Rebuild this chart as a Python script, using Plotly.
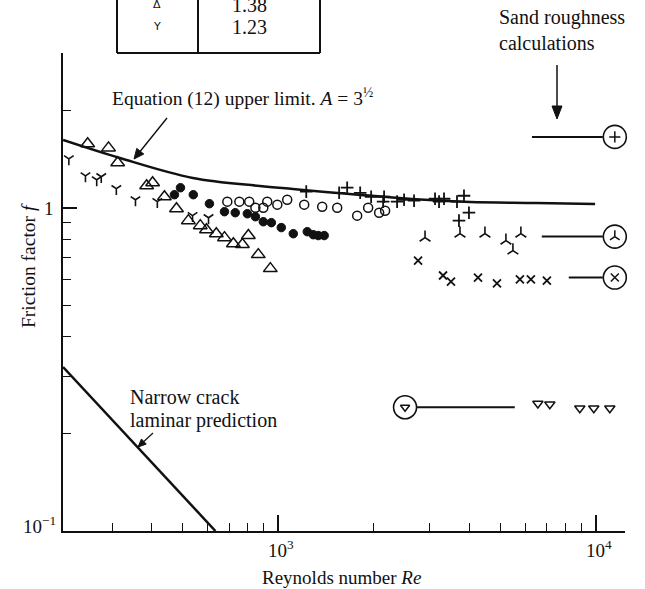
import math
import plotly.graph_objects as go

# ---------------- data ----------------
y_re = [219, 247, 268, 277, 309, 355, 416, 537, 603]
y_f = [1.416, 1.255, 1.22, 1.247, 1.145, 1.058, 1.044, 0.945, 0.931]

tri_re = [251, 292, 312, 385, 402, 438, 478, 521, 568, 594, 638, 677, 722, 771, 805, 865, 944]
tri_f = [1.576, 1.531, 1.377, 1.169, 1.195, 1.081, 0.993, 0.912, 0.880, 0.855, 0.831, 0.808,
         0.774, 0.769, 0.820, 0.716, 0.648]

dot_re = [471, 492, 540, 607, 677, 732, 799, 847, 897, 951, 1022, 1115, 1234, 1289, 1336, 1395]
dot_f = [1.097, 1.153, 1.097, 1.029, 0.972, 0.965, 0.958, 0.938, 0.905, 0.899, 0.868, 0.831,
         0.843, 0.825, 0.820, 0.820]

circ_re = [691, 754, 810, 847, 897, 923, 993, 1067, 1207, 1375, 1533, 1772, 1919, 2078, 2170]
circ_f = [1.044, 1.044, 1.044, 1.0, 1.0, 1.044, 1.022, 1.058, 1.022, 1.007, 1.0, 0.945, 1.0,
          0.965, 0.979]

plus_re = [1225, 1555, 1648, 1811, 1961, 2154, 2139, 2367, 2490, 2677, 3117, 3209, 3327, 3655,
           3845, 3986, 3708]
plus_f = [1.121, 1.112, 1.153, 1.112, 1.081, 1.081, 1.044, 1.044, 1.058, 1.051, 1.066, 1.044,
          1.066, 1.044, 1.089, 0.965, 0.912]

lam_re = [2899, 3735, 4476, 5212, 5483, 5809]
lam_f = [0.808, 0.831, 0.831, 0.791, 0.737, 0.831]

x_re = [2756, 3303, 3499, 4256, 4884, 5768, 6246, 7014]
x_f = [0.686, 0.617, 0.591, 0.608, 0.583, 0.60, 0.60, 0.595]

inv_re = [6570, 7165, 8906, 9856, 11070]
inv_f = [0.248, 0.2466, 0.2397, 0.2397, 0.2397]

# Equation (12) upper limit curve
eq12_re = [210, 317, 538, 875, 1112, 1406, 2800, 4019, 6500, 9950]
eq12_f = [1.62, 1.425, 1.236, 1.167, 1.142, 1.118, 1.060, 1.041, 1.034, 1.027]

# Narrow crack laminar prediction
lamline_re = [210, 634]
lamline_f = [0.3215, 0.1]

# Sand roughness calculations (circled symbols with lines)
sand_symbols = ["cross-thin-open", "y-up-open", "x-thin-open", "triangle-down-open"]
sand_f = [1.656, 0.814, 0.608, 0.2415]
sand_line_start = [6295, 6760, 8220, 2736]
sand_line_end = [10520, 10520, 10520, 5557]
sand_circle_re = [11480, 11480, 11480, 2508]

# Table (partially visible)
table_symbols = ["Δ", "Y"]
table_values = ["1.38", "1.23"]

# ---------------- figure ----------------
W, H = 645, 589
L, R, T, B = 63, 20, 53, 58
PW, PH = W - L - R, H - T - B


def px(xp):
    return (xp - L) / PW


def py(yp):
    return (H - B - yp) / PH


FONT = "Liberation Serif"
BLK = "#111111"
TS = 20  # label text size

fig = go.Figure()

fig.add_trace(go.Scatter(x=eq12_re, y=eq12_f, mode="lines", line=dict(color=BLK, width=2.5, shape="spline"),
                         hoverinfo="skip"))
fig.add_trace(go.Scatter(x=lamline_re, y=lamline_f, mode="lines", line=dict(color=BLK, width=2.5),
                         hoverinfo="skip"))

def add_markers(xs, ys, symbol, size, lw=1.5):
    fig.add_trace(go.Scatter(
        x=xs, y=ys, mode="markers", cliponaxis=False,
        marker=dict(symbol=symbol, size=size, color=BLK,
                    line=dict(color=BLK, width=lw))))

add_markers(y_re, y_f, "y-down-open", 8, 1.6)
add_markers(tri_re, tri_f, "triangle-up-open", 12, 1.5)
add_markers(dot_re, dot_f, "circle", 8.5, 1)
add_markers(circ_re, circ_f, "circle-open", 9, 1.5)
add_markers(plus_re, plus_f, "cross-thin-open", 9, 1.8)
add_markers(lam_re, lam_f, "y-up-open", 9, 1.6)
add_markers(x_re, x_f, "x-thin-open", 8, 1.8)
add_markers(inv_re, inv_f, "triangle-down-open", 9, 1.5)

for sym, f, x0, x1, xc in zip(sand_symbols, sand_f, sand_line_start, sand_line_end, sand_circle_re):
    fig.add_trace(go.Scatter(x=[x0, x1], y=[f, f], mode="lines", cliponaxis=False,
                             line=dict(color=BLK, width=2)))
    fig.add_trace(go.Scatter(x=[xc], y=[f], mode="markers", cliponaxis=False,
                             marker=dict(symbol="circle-open", size=23, color=BLK,
                                         line=dict(color=BLK, width=1.6))))
    fig.add_trace(go.Scatter(x=[xc], y=[f], mode="markers", cliponaxis=False,
                             marker=dict(symbol=sym, size=8, color=BLK,
                                         line=dict(color=BLK, width=1.5))))

annotations = []
shapes = []


def label(xp, yp, text, size=TS, xanchor="left", angle=0, family=FONT):
    annotations.append(dict(x=px(xp), y=py(yp), xref="paper", yref="paper", xanchor=xanchor,
                            yanchor="middle", text=text, showarrow=False, textangle=angle,
                            font=dict(family=family, size=size, color=BLK)))


def arrow(x0, y0, x1, y1, head_len=10, head_w=4.5, width=1.4):
    """arrow from pixel (x0, y0) to head at (x1, y1)"""
    dx, dy = x1 - x0, y1 - y0
    n = math.hypot(dx, dy)
    ux, uy = dx / n, dy / n
    bx, by = x1 - ux * head_len, y1 - uy * head_len
    shapes.append(dict(type="line", xref="paper", yref="paper", x0=px(x0), y0=py(y0),
                       x1=px(bx), y1=py(by), line=dict(color=BLK, width=width)))
    p1 = (bx + uy * head_w, by - ux * head_w)
    p2 = (bx - uy * head_w, by + ux * head_w)
    path = "M {} {} L {} {} L {} {} Z".format(px(x1), py(y1), px(p1[0]), py(p1[1]),
                                             px(p2[0]), py(p2[1]))
    shapes.append(dict(type="path", xref="paper", yref="paper", path=path,
                       fillcolor=BLK, line=dict(color=BLK, width=1)))


# axis tick labels
label(58, 525, "10<sup>−1</sup>", 19, "right")
label(56, 208, "1", 19, "right")
label(281, 549, "10<sup>3</sup>", 19, "center")
label(599, 549, "10<sup>4</sup>", 19, "center")
# axis titles
label(341, 577, "Reynolds number <i>Re</i>", 19, "center")
label(28, 266, "Friction factor <i>f</i>", 19.5, "center", angle=-90)

# text labels
label(110, 97, "Equation (12) upper limit. <i>A</i> = 3<sup>½</sup>", 19.5)
label(497, 18, "Sand roughness", TS)
label(497, 43, "calculations", TS)
label(128, 397, "Narrow crack", TS)
label(128, 420, "laminar prediction", TS)

# arrows
arrow(167, 118, 134, 159)
arrow(557, 65, 557, 119, head_len=13, head_w=5, width=1.5)
arrow(153, 433, 138, 447, head_len=8, head_w=3.5, width=1.2)

# partial table at the top
for xv in (117, 198, 320):
    shapes.append(dict(type="line", xref="paper", yref="paper", x0=px(xv), x1=px(xv),
                       y0=py(53), y1=py(-5), line=dict(color=BLK, width=2)))
shapes.append(dict(type="line", xref="paper", yref="paper", x0=px(117), x1=px(320),
                   y0=py(53), y1=py(53), line=dict(color=BLK, width=2)))
for i, (s, v) in enumerate(zip(table_symbols, table_values)):
    yc = 5 + 22 * i
    label(157, yc, s, 11, "center", family="DejaVu Sans")
    label(249, yc, v, 20, "center")

axis_common = dict(showgrid=False, zeroline=False, showline=True, linecolor=BLK, linewidth=2,
                   ticks="inside", tickcolor=BLK, tickwidth=1.5, showticklabels=False, mirror=False)

fig.update_layout(
    width=W, height=H, margin=dict(l=L, r=R, t=T, b=B),
    paper_bgcolor="white", plot_bgcolor="white", showlegend=False,
    xaxis=dict(type="log", range=[2.322, 4.092], tickmode="array", tickvals=[1000, 10000], ticklen=16,
               minor=dict(tickmode="array", ticks="inside", ticklen=8, tickwidth=1.3, tickcolor=BLK,
                          tickvals=[300, 400, 500, 600, 700, 800, 900,
                                    2000, 3000, 4000, 5000, 6000, 7000, 8000, 9000]),
               **axis_common),
    yaxis=dict(type="log", range=[-1, 0.4785], tickmode="array", tickvals=[0.1, 1], ticklen=14,
               minor=dict(tickmode="array", ticks="inside", ticklen=8, tickwidth=1.3, tickcolor=BLK,
                          tickvals=[0.2, 0.3, 0.4, 0.5, 0.6, 0.7, 0.8, 0.9, 2, 3]),
               **axis_common),
    annotations=annotations, shapes=shapes,
)

fig.write_html("out.html", config={"displayModeBar": False},
               post_script="document.body.style.margin='0';document.body.style.overflow='hidden';")
